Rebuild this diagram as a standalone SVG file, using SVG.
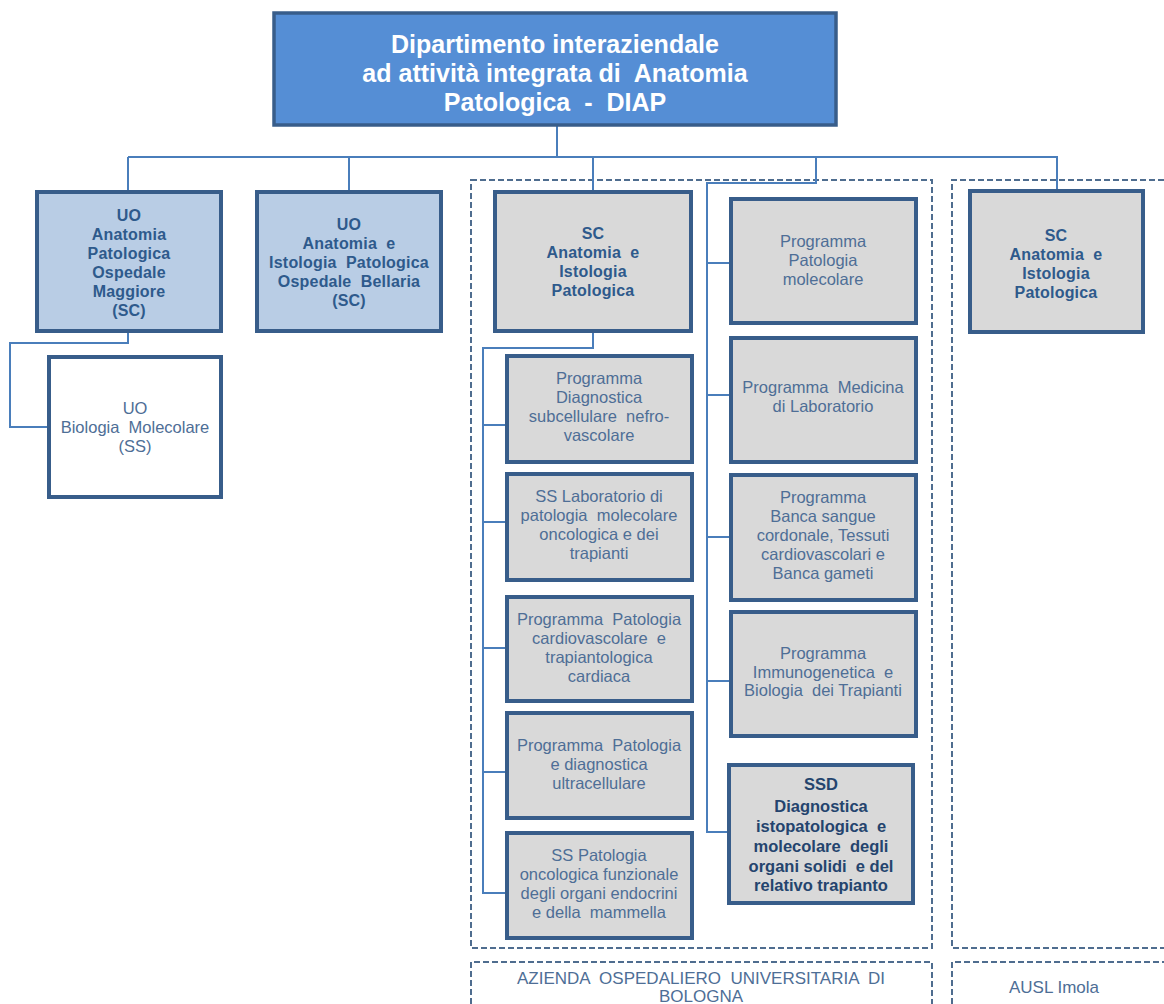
<svg xmlns="http://www.w3.org/2000/svg" width="1164" height="1004" viewBox="0 0 1164 1004" xml:space="preserve">
<style>
.bx{stroke:#385D8A;stroke-width:4}
.top{fill:#558ED5;stroke:#385D8A;stroke-width:3.5}
.lb{fill:#B9CDE5}
.gr{fill:#D9D9D9}
.wh{fill:#FFFFFF}
.cn{fill:none;stroke:#4A7EBB;stroke-width:2}
.dash{fill:none;stroke:#4F6D8F;stroke-width:2;stroke-dasharray:6 3}
text{font-family:"Liberation Sans",Arial,sans-serif;text-anchor:middle;white-space:pre}
.tt{font-size:25px;font-weight:bold;fill:#FFFFFF}
.b{font-size:16px;font-weight:bold;fill:#2E5A8C;letter-spacing:0.2px}
.n{font-size:16.5px;fill:#4E6E96}
.nn{font-size:16.5px;fill:#4E6E96}
.bn{font-size:16.5px;font-weight:bold;fill:#24446E}
.lab{font-size:17px;fill:#4E6E96}
</style>
<rect width="1164" height="1004" fill="#FFFFFF"/>
<g id="containers">
<rect class="dash" x="471" y="180" width="461" height="768"/>
<path class="dash" d="M1164,180 H952 V948 H1164"/>
<path class="dash" d="M471,1004 V962 H932 V1004"/>
<path class="dash" d="M952,1004 V962 H1164"/>
</g>
<g id="connectors">
<path class="cn" d="M557,125 V157 M128,157 H1058 M128,157 V192 M349,157 V192 M593,157 V192 M1057,157 V192 M816,157 V183 H707 V832 H729 M707,263 H731 M707,395 H731 M707,537 H731 M707,681 H731"/>
<path class="cn" d="M128,331 V343 H10 V427 H49"/>
<path class="cn" d="M593,331 V348 H483 V893 H507 M483,425 H507 M483,522 H507 M483,648 H507 M483,772 H507"/>
</g>
<g id="diap">
<rect class="top" x="274" y="13" width="562" height="112"/>
<text class="tt" x="555" y="53">Dipartimento interaziendale</text>
<text class="tt" x="555" y="82">ad attività integrata di  Anatomia</text>
<text class="tt" x="555" y="111">Patologica  -  DIAP</text>
</g>
<g id="uo-maggiore">
<rect class="bx lb" x="37" y="192" width="184" height="139"/>
<text class="b" x="129" y="221">UO</text>
<text class="b" x="129" y="240">Anatomia</text>
<text class="b" x="129" y="259">Patologica</text>
<text class="b" x="129" y="278">Ospedale</text>
<text class="b" x="129" y="297">Maggiore</text>
<text class="b" x="129" y="316">(SC)</text>
</g>
<g id="uo-bellaria">
<rect class="bx lb" x="257" y="192" width="184" height="139"/>
<text class="b" x="349" y="230">UO</text>
<text class="b" x="349" y="249">Anatomia  e</text>
<text class="b" x="349" y="268">Istologia  Patologica</text>
<text class="b" x="349" y="287">Ospedale  Bellaria</text>
<text class="b" x="349" y="306">(SC)</text>
</g>
<g id="uo-biologia">
<rect class="bx wh" x="49" y="357" width="172" height="140"/>
<text class="n" x="135" y="414">UO</text>
<text class="n" x="135" y="433">Biologia  Molecolare</text>
<text class="n" x="135" y="452">(SS)</text>
</g>
<g id="sc-aou">
<rect class="bx gr" x="495" y="192" width="196" height="139"/>
<text class="b" x="593" y="239">SC</text>
<text class="b" x="593" y="258">Anatomia  e</text>
<text class="b" x="593" y="277">Istologia</text>
<text class="b" x="593" y="296">Patologica</text>
</g>
<g id="prog-nefro">
<rect class="bx gr" x="507" y="356" width="185" height="106"/>
<text class="n" x="599" y="384">Programma</text>
<text class="n" x="599" y="403">Diagnostica</text>
<text class="n" x="599" y="422">subcellulare  nefro-</text>
<text class="n" x="599" y="441">vascolare</text>
</g>
<g id="ss-lab">
<rect class="bx gr" x="507" y="474" width="185" height="106"/>
<text class="n" x="599" y="502">SS Laboratorio di</text>
<text class="n" x="599" y="521">patologia  molecolare</text>
<text class="n" x="599" y="540">oncologica e dei</text>
<text class="n" x="599" y="559">trapianti</text>
</g>
<g id="prog-cardio">
<rect class="bx gr" x="507" y="597" width="185" height="104"/>
<text class="n" x="599" y="625">Programma  Patologia</text>
<text class="n" x="599" y="644">cardiovascolare  e</text>
<text class="n" x="599" y="663">trapiantologica</text>
<text class="n" x="599" y="682">cardiaca</text>
</g>
<g id="prog-ultra">
<rect class="bx gr" x="507" y="713" width="185" height="105"/>
<text class="n" x="599" y="751">Programma  Patologia</text>
<text class="n" x="599" y="770">e diagnostica</text>
<text class="n" x="599" y="789">ultracellulare</text>
</g>
<g id="ss-endo">
<rect class="bx gr" x="507" y="833" width="185" height="105"/>
<text class="nn" x="599" y="861">SS Patologia</text>
<text class="nn" x="599" y="880">oncologica funzionale</text>
<text class="nn" x="599" y="899">degli organi endocrini</text>
<text class="nn" x="599" y="918">e della  mammella</text>
</g>
<g id="prog-molecolare">
<rect class="bx gr" x="731" y="199" width="185" height="124"/>
<text class="n" x="823" y="247">Programma</text>
<text class="n" x="823" y="266">Patologia</text>
<text class="n" x="823" y="285">molecolare</text>
</g>
<g id="prog-medicina">
<rect class="bx gr" x="731" y="338" width="185" height="124"/>
<text class="n" x="823" y="393">Programma  Medicina</text>
<text class="n" x="823" y="412">di Laboratorio</text>
</g>
<g id="prog-banca">
<rect class="bx gr" x="731" y="475" width="185" height="125"/>
<text class="n" x="823" y="503">Programma</text>
<text class="n" x="823" y="522">Banca sangue</text>
<text class="n" x="823" y="541">cordonale, Tessuti</text>
<text class="n" x="823" y="560">cardiovascolari e</text>
<text class="n" x="823" y="579">Banca gameti</text>
</g>
<g id="prog-immuno">
<rect class="bx gr" x="731" y="612" width="185" height="124"/>
<text class="n" x="823" y="659">Programma</text>
<text class="n" x="823" y="678">Immunogenetica  e</text>
<text class="n" x="823" y="696">Biologia  dei Trapianti</text>
</g>
<g id="ssd">
<rect class="bx gr" x="729" y="765" width="184" height="138"/>
<text class="bn" x="821" y="790">SSD</text>
<text class="bn" x="821" y="812">Diagnostica</text>
<text class="bn" x="821" y="832">istopatologica  e</text>
<text class="bn" x="821" y="852">molecolare  degli</text>
<text class="bn" x="821" y="872">organi solidi  e del</text>
<text class="bn" x="821" y="891">relativo trapianto</text>
</g>
<g id="sc-imola">
<rect class="bx gr" x="970" y="191" width="173" height="141"/>
<text class="b" x="1056" y="241">SC</text>
<text class="b" x="1056" y="260">Anatomia  e</text>
<text class="b" x="1056" y="279">Istologia</text>
<text class="b" x="1056" y="298">Patologica</text>
</g>
<g id="labels">
<text class="lab" x="701" y="984">AZIENDA  OSPEDALIERO  UNIVERSITARIA  DI</text>
<text class="lab" x="701" y="1002">BOLOGNA</text>
<text class="lab" x="1054" y="993">AUSL Imola</text>
</g>
</svg>
